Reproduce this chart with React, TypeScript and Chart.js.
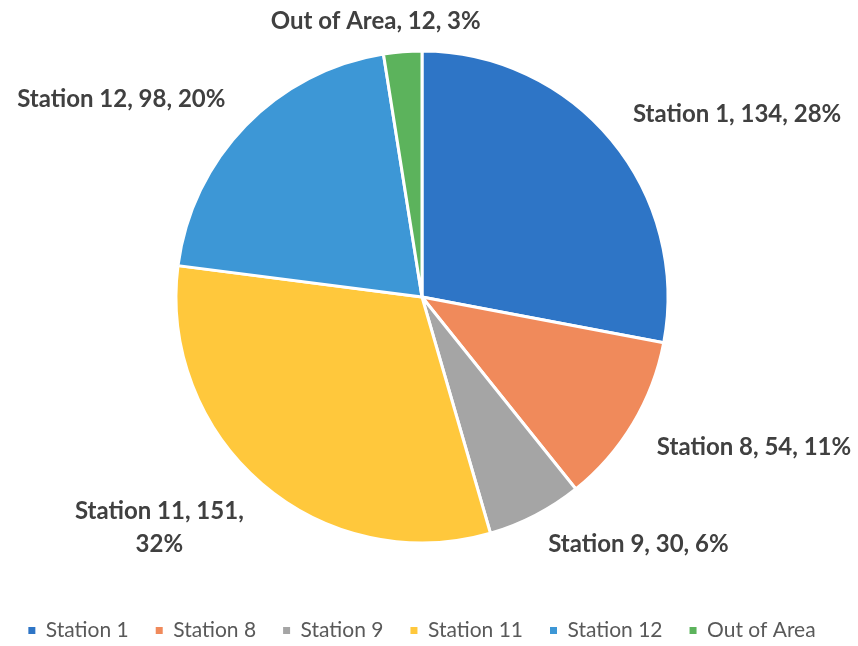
import React, { useEffect, useRef } from "react";
import { Chart, registerables } from "chart.js";

Chart.register(...registerables);

const categories = ["Station 1", "Station 8", "Station 9", "Station 11", "Station 12", "Out of Area"];
const counts = [134, 54, 30, 151, 98, 12];
const percentLabels = ["28%", "11%", "6%", "32%", "20%", "3%"];
const sliceColors = ["#2E75C6", "#F08A5B", "#A5A5A5", "#FFC83C", "#3D97D6", "#5CB35C"];

const LABEL_FONT = "bold 24px Lato";
const LABEL_COLOR = "#404040";
const LABEL_LINE_HEIGHT = 33;
const LABEL_WRAP_WIDTH = 214;

function wrapText(ctx: CanvasRenderingContext2D, text: string, maxWidth: number): string[] {
  const words = text.split(" ");
  const lines: string[] = [];
  let current = "";
  for (const w of words) {
    const test = current ? current + " " + w : w;
    if (current && ctx.measureText(test).width > maxWidth) {
      lines.push(current);
      current = w;
    } else {
      current = test;
    }
  }
  if (current) lines.push(current);
  return lines;
}

const clamp = (v: number, lo: number, hi: number) => Math.max(lo, Math.min(hi, v));

const outsideLabels = {
  id: "outsideLabels",
  afterDatasetsDraw(chart: any) {
    const ctx: CanvasRenderingContext2D = chart.ctx;
    const meta = chart.getDatasetMeta(0);
    const labels: string[] = chart.data.labels;
    const data: number[] = chart.data.datasets[0].data;
    ctx.save();
    ctx.font = LABEL_FONT;
    ctx.fillStyle = LABEL_COLOR;
    ctx.textBaseline = "middle";
    ctx.textAlign = "center";
    meta.data.forEach((arc: any, i: number) => {
      const { x, y, startAngle, endAngle, outerRadius } = arc.getProps(
        ["x", "y", "startAngle", "endAngle", "outerRadius"],
        true
      );
      const mid = (startAngle + endAngle) / 2;
      const ux = Math.cos(mid);
      const uy = Math.sin(mid);
      const text = `${labels[i]}, ${data[i]}, ${percentLabels[i]}`;
      const lines = wrapText(ctx, text, LABEL_WRAP_WIDTH);
      const w = Math.max(...lines.map((l) => ctx.measureText(l).width));
      const h = lines.length * LABEL_LINE_HEIGHT;
      const px = x + ux * (outerRadius + 28);
      const py = y + uy * (outerRadius + 14);
      const ax = clamp(ux * 3, -1, 1);
      const ay = clamp(uy * 3, -1, 1);
      const left = px - w / 2 + (ax * w) / 2;
      const top = py - h / 2 + (ay * h) / 2;
      lines.forEach((line, j) => {
        ctx.fillText(line, left + w / 2, top + (j + 0.5) * LABEL_LINE_HEIGHT);
      });
    });
    ctx.restore();
  },
};

export default function App() {
  const canvasRef = useRef<HTMLCanvasElement | null>(null);

  useEffect(() => {
    document.body.style.margin = "0";
    const canvas = canvasRef.current;
    if (!canvas) return;
    const baseGenerate = (Chart as any).overrides.pie.plugins.legend.labels.generateLabels;
    const chart = new Chart(canvas, {
      type: "pie",
      data: {
        labels: categories,
        datasets: [
          {
            data: counts,
            backgroundColor: sliceColors,
            borderColor: "#FFFFFF",
            borderWidth: 3,
            radius: 246,
          },
        ],
      },
      options: {
        animation: false,
        responsive: false,
        maintainAspectRatio: false,
        layout: { padding: { top: 1, bottom: -5, left: 0, right: 14 } },
        plugins: {
          tooltip: { enabled: false },
          legend: {
            position: "bottom",
            labels: {
              boxWidth: 7,
              boxHeight: 7,
              padding: 27,
              color: "#595959",
              font: { family: "Lato", size: 21 },
              generateLabels: (c: any) =>
                baseGenerate(c).map((item: any) => ({ ...item, lineWidth: 0, strokeStyle: "rgba(0,0,0,0)" })),
            },
          },
        },
      },
      plugins: [outsideLabels],
    });
    return () => chart.destroy();
  }, []);

  return (
    <div style={{ width: 858, height: 646, background: "#FFFFFF" }}>
      <canvas ref={canvasRef} width={858} height={646} style={{ display: "block" }} />
    </div>
  );
}
